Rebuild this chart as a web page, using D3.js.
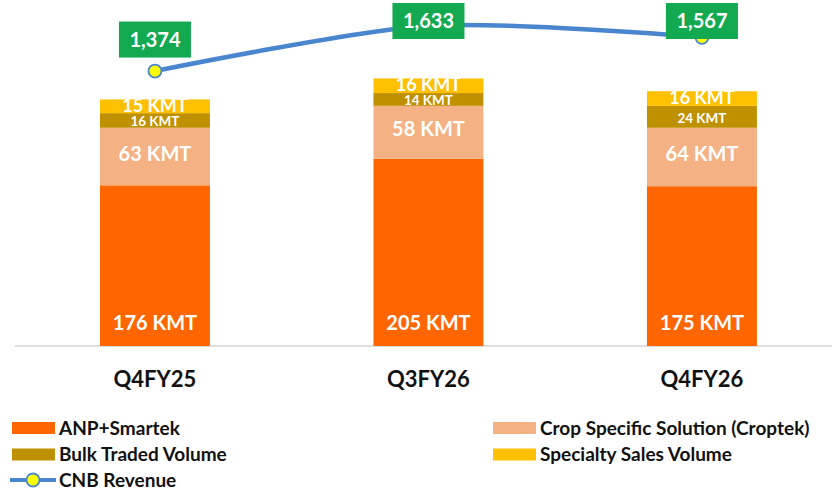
<!DOCTYPE html>
<html>
<head>
<meta charset="utf-8">
<script src="https://cdn.jsdelivr.net/npm/d3@7"></script>
<style>
  html, body { margin: 0; padding: 0; background: #ffffff; }
  svg { display: block; font-family: Lato, "Open Sans", "Noto Sans", sans-serif; }
</style>
</head>
<body>
<svg id="chart" width="832" height="491"></svg>
<script>
// ---- data ----
const categories = ["Q4FY25", "Q3FY26", "Q4FY26"];
const anpSmartek = [176, 205, 175];
const croptek = [63, 58, 64];
const bulkTraded = [16, 14, 24];
const specialty = [15, 16, 16];
const cnbRevenue = [1374, 1633, 1567];
const seriesNames = ["ANP+Smartek", "Crop Specific Solution (Croptek)", "Bulk Traded Volume", "Specialty Sales Volume"];
const lineName = "CNB Revenue";

// ---- styles ----
const colors = ["#ff6600", "#f4b183", "#bf9000", "#ffc000"];
const lineColor = "#4a86cf";
const labelGreen = "#12a950";

const svg = d3.select("#chart");

const x = d3.scaleBand().domain(categories).range([18.2, 838.7]).paddingInner(0.598).paddingOuter(0.299);
const y = d3.scaleLinear().domain([0, 350]).range([346, 26.4]);
const y2 = d3.scaleLinear().domain([1000, 1800]).range([136.5, -3.5]);

const seriesData = [anpSmartek, croptek, bulkTraded, specialty];
const table = categories.map((c, i) => {
  const o = { cat: c };
  seriesNames.forEach((s, k) => o[s] = seriesData[k][i]);
  return o;
});
const stack = d3.stack().keys(seriesNames)(table);

// baseline
svg.append("line")
  .attr("x1", 15).attr("x2", 832)
  .attr("y1", y(0)).attr("y2", y(0))
  .attr("stroke", "#d4d4d4").attr("stroke-width", 1.5);

// bars
const layers = svg.append("g").selectAll("g").data(stack).join("g")
  .attr("fill", (d, i) => colors[i]);
layers.selectAll("rect").data(d => d).join("rect")
  .attr("x", d => x(d.data.cat))
  .attr("width", x.bandwidth())
  .attr("y", d => y(d[1]))
  .attr("height", d => y(d[0]) - y(d[1]));

// bar labels
stack.forEach((layer, k) => {
  svg.append("g").selectAll("text").data(layer).join("text")
    .attr("x", d => x(d.data.cat) + x.bandwidth() / 2)
    .attr("y", d => {
      if (k === 0) return y(d[0]) - 16;
      const mid = (y(d[0]) + y(d[1])) / 2;
      return k === 1 ? mid + 4 : (k === 2 ? mid + 6 : mid + 5.5);
    })
    .attr("text-anchor", "middle")
    .attr("fill", "#ffffff")
    .attr("font-weight", "bold")
    .attr("font-size", k === 2 ? 13.5 : (k === 3 ? 18 : 20))
    .text(d => (d[1] - d[0]) + " KMT");
});

// category labels
svg.append("g").selectAll("text").data(categories).join("text")
  .attr("x", d => x(d) + x.bandwidth() / 2)
  .attr("y", 387)
  .attr("text-anchor", "middle")
  .attr("font-weight", "bold")
  .attr("font-size", 22)
  .attr("fill", "#111")
  .text(d => d);

// line
const pts = categories.map((c, i) => [x(c) + x.bandwidth() / 2, y2(cnbRevenue[i])]);
svg.append("path")
  .attr("d", d3.line().curve(d3.curveCardinal.tension(0.2))(pts))
  .attr("fill", "none")
  .attr("stroke", lineColor)
  .attr("stroke-width", 4.5);
svg.append("g").selectAll("circle").data(pts).join("circle")
  .attr("cx", d => d[0]).attr("cy", d => d[1]).attr("r", 6.5)
  .attr("fill", "#ffff00").attr("stroke", lineColor).attr("stroke-width", 1.8);

// revenue labels
const fmt = d3.format(",");
const lab = svg.append("g").selectAll("g").data(pts).join("g")
  .attr("transform", d => `translate(${d[0]},${Math.max(d[1] - 31.5, 21)})`);
lab.append("rect")
  .attr("x", -36).attr("y", -18).attr("width", 72).attr("height", 36)
  .attr("fill", labelGreen);
lab.append("text")
  .attr("y", 7)
  .attr("text-anchor", "middle")
  .attr("fill", "#ffffff")
  .attr("font-weight", "bold")
  .attr("font-size", 20)
  .text((d, i) => fmt(cnbRevenue[i]));

// legend
const legend = svg.append("g").attr("font-weight", "bold").attr("font-size", 19).attr("fill", "#111");
const legendItems = [
  { name: seriesNames[0], color: colors[0], x: 12, row: 0 },
  { name: seriesNames[1], color: colors[1], x: 493, row: 0 },
  { name: seriesNames[2], color: colors[2], x: 12, row: 1 },
  { name: seriesNames[3], color: colors[3], x: 493, row: 1 },
];
const rowY = [428, 454.5, 480];
legendItems.forEach(it => {
  legend.append("rect")
    .attr("x", it.x).attr("y", rowY[it.row] - 6).attr("width", 43).attr("height", 12)
    .attr("fill", it.color);
  legend.append("text")
    .attr("x", it.x + 47).attr("y", rowY[it.row] + 6.5)
    .text(it.name);
});
legend.append("line")
  .attr("x1", 10).attr("x2", 56).attr("y1", rowY[2]).attr("y2", rowY[2])
  .attr("stroke", lineColor).attr("stroke-width", 4);
legend.append("circle")
  .attr("cx", 33).attr("cy", rowY[2]).attr("r", 6.5)
  .attr("fill", "#ffff00").attr("stroke", lineColor).attr("stroke-width", 1.8);
legend.append("text")
  .attr("x", 59).attr("y", rowY[2] + 6.5)
  .text(lineName);
</script>
</body>
</html>
